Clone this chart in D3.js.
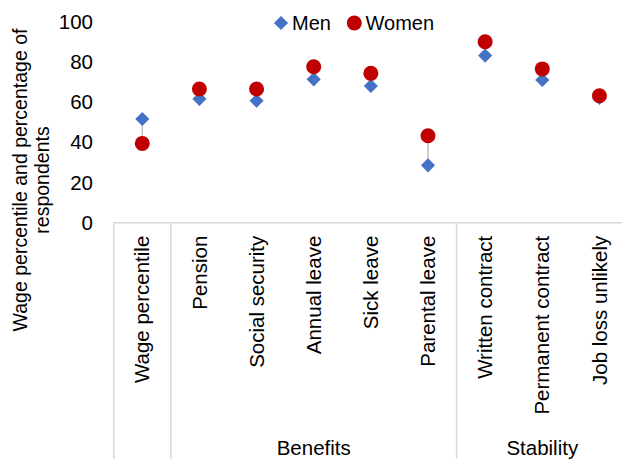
<!DOCTYPE html>
<html>
<head>
<meta charset="utf-8">
<script src="https://cdn.jsdelivr.net/npm/d3@7"></script>
<style>
  html, body { margin: 0; padding: 0; background: #fff; }
  svg { display: block; font-family: "Liberation Sans", Arial, sans-serif; }
</style>
</head>
<body>
<svg id="chart" width="622" height="459"></svg>
<script>
// Job quality indicators by sex
const categories = ["Wage percentile", "Pension", "Social security", "Annual leave",
  "Sick leave", "Parental leave", "Written contract", "Permanent contract", "Job loss unlikely"];
const menValues   = [51.5, 61.5, 60.6, 71.2, 67.9, 28.5, 83.0, 70.9, 62.0];
const womenValues = [39.4, 66.4, 66.4, 77.5, 74.2, 43.2, 89.9, 76.4, 63.1];
const groups = [
  { name: "", from: 0, to: 0 },
  { name: "Benefits", from: 1, to: 5 },
  { name: "Stability", from: 6, to: 8 }
];
const yTicks = [0, 20, 40, 60, 80, 100];
const seriesNames = ["Men", "Women"];

const colorMen = "#4472C4";
const colorWomen = "#C00000";
const axisGrey = "#d9d9d9";

const svg = d3.select("#chart");
const margin = { left: 113.7, right: -6, top: 21.4, bottom: 236.3 };
const width = 622, height = 459;

const x = d3.scaleBand()
  .domain(categories)
  .range([margin.left, width - margin.right])
  .padding(0);

const y = d3.scaleLinear()
  .domain([0, 100])
  .range([height - margin.bottom, margin.top]);

const y0 = y(0);

// Y tick labels
svg.append("g")
  .selectAll("text")
  .data(yTicks)
  .join("text")
  .attr("x", 93)
  .attr("y", d => y(d))
  .attr("dy", "0.35em")
  .attr("text-anchor", "end")
  .attr("font-size", 20.5)
  .attr("fill", "#000")
  .text(d => d);

// Y axis title (two lines)
const yTitle = svg.append("text")
  .attr("transform", "translate(0,180) rotate(-90)")
  .attr("text-anchor", "middle")
  .attr("font-size", 19.5)
  .attr("fill", "#000");
yTitle.append("tspan").attr("x", 0).attr("y", 27).text("Wage percentile and percentage of");
yTitle.append("tspan").attr("x", 0).attr("y", 49).text("respondents");

// Horizontal category axis line
svg.append("line")
  .attr("x1", x.range()[0]).attr("x2", x.range()[1])
  .attr("y1", y0).attr("y2", y0)
  .attr("stroke", axisGrey).attr("stroke-width", 1.5);

// Group dividers (left edge of each group, plus the right edge)
const dividerXs = groups.map(g => x(categories[g.from]))
  .concat([x(categories[categories.length - 1]) + x.bandwidth()]);
svg.append("g")
  .selectAll("line")
  .data(dividerXs)
  .join("line")
  .attr("x1", d => d).attr("x2", d => d)
  .attr("y1", y0).attr("y2", height)
  .attr("stroke", axisGrey).attr("stroke-width", 1.5);

// Category labels (rotated)
svg.append("g")
  .selectAll("text")
  .data(categories)
  .join("text")
  .attr("transform", d => `translate(${x(d) + x.bandwidth() / 2},${y0 + 13}) rotate(-90)`)
  .attr("text-anchor", "end")
  .attr("dy", "0.35em")
  .attr("font-size", 20.5)
  .attr("fill", "#000")
  .text(d => d);

// Group labels
svg.append("g")
  .selectAll("text")
  .data(groups.filter(g => g.name))
  .join("text")
  .attr("x", g => (x(categories[g.from]) + x(categories[g.to]) + x.bandwidth()) / 2)
  .attr("y", 455)
  .attr("text-anchor", "middle")
  .attr("font-size", 20.5)
  .attr("fill", "#000")
  .text(g => g.name);

// Connector lines between men and women values
svg.append("g")
  .selectAll("line")
  .data(categories)
  .join("line")
  .attr("x1", d => x(d) + x.bandwidth() / 2)
  .attr("x2", d => x(d) + x.bandwidth() / 2)
  .attr("y1", (d, i) => y(menValues[i]))
  .attr("y2", (d, i) => y(womenValues[i]))
  .attr("stroke", "#bfbfbf").attr("stroke-width", 1.5);

const diamond = d3.symbol(d3.symbolSquare, 100);

// Men markers (diamonds)
svg.append("g")
  .selectAll("path")
  .data(categories)
  .join("path")
  .attr("d", diamond)
  .attr("transform", (d, i) => `translate(${x(d) + x.bandwidth() / 2},${y(menValues[i])}) rotate(45)`)
  .attr("fill", colorMen);

// Women markers (circles)
svg.append("g")
  .selectAll("circle")
  .data(categories)
  .join("circle")
  .attr("cx", d => x(d) + x.bandwidth() / 2)
  .attr("cy", (d, i) => y(womenValues[i]))
  .attr("r", 7.5)
  .attr("fill", colorWomen);

// Legend
const legend = svg.append("g");
legend.append("path")
  .attr("d", diamond)
  .attr("transform", "translate(281,23) rotate(45)")
  .attr("fill", colorMen);
legend.append("text")
  .attr("x", 292).attr("y", 30)
  .attr("font-size", 20).attr("fill", "#000")
  .text(seriesNames[0]);
legend.append("circle")
  .attr("cx", 354.3).attr("cy", 23).attr("r", 7.5)
  .attr("fill", colorWomen);
legend.append("text")
  .attr("x", 365.5).attr("y", 30)
  .attr("font-size", 20).attr("fill", "#000")
  .text(seriesNames[1]);
</script>
</body>
</html>
